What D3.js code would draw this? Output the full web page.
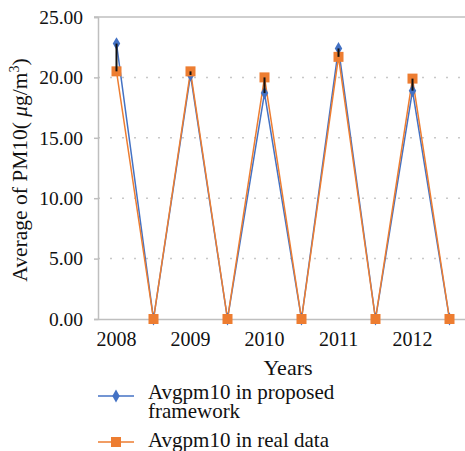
<!DOCTYPE html>
<html lang="en">
<head>
  <meta charset="UTF-8">
  <title>Average PM10 by year</title>
  <script src="https://d3js.org/d3.v7.min.js"></script>
  <style>
    body {
      margin: 0;
      background: #fff;
    }
  </style>
</head>
<body>
  <svg width="465" height="451"></svg>

  <script>
    // data
    const categories = ["2008", "", "2009", "", "2010", "", "2011", "", "2012", ""];
    const proposed = [22.8, 0, 20.2, 0, 18.7, 0, 22.4, 0, 18.9, 0];
    const realData = [20.5, 0, 20.5, 0, 20.0, 0, 21.7, 0, 19.9, 0];
    const yTicks = [0, 5, 10, 15, 20, 25];
    const seriesNames = ["Avgpm10 in proposed framework", "Avgpm10 in real data"];

    const serif = '"Liberation Serif", "DejaVu Serif", serif';

    const svg = d3.select("svg"),
          margin = {top: 17, right: -3, bottom: 132, left: 98},
          width = +svg.attr("width") - margin.left - margin.right,
          height = +svg.attr("height") - margin.top - margin.bottom;

    const blue = "#4472C4",
          orange = "#ED7D31",
          gridColor = "#BFBFBF";

    const g = svg.append("g").attr("transform", `translate(${margin.left},${margin.top})`);

    const idx = d3.range(categories.length);
    const x = d3.scaleBand().domain(idx).range([0, width]);
    const y = d3.scaleLinear().domain([0, 25]).range([height, 0]);
    const cx = i => x(i) + x.bandwidth() / 2;

    // dotted gridlines
    g.selectAll(".grid")
      .data(yTicks.filter(t => t > 0 && t < 25))
      .enter()
      .append("line")
      .attr("x1", 0)
      .attr("x2", width)
      .attr("y1", d => y(d))
      .attr("y2", d => y(d))
      .attr("stroke", "#C8C8C8")
      .attr("stroke-width", 1.5)
      .attr("stroke-dasharray", "2,10");

    // top border
    g.append("line")
      .attr("x1", -4).attr("x2", width)
      .attr("y1", y(25)).attr("y2", y(25))
      .attr("stroke", gridColor).attr("stroke-width", 1.5);

    // axes
    const yAxis = g.append("g")
      .call(d3.axisLeft(y).tickValues(yTicks).tickFormat(d3.format(".2f")).tickSize(4).tickPadding(11));
    yAxis.select(".domain").attr("stroke", gridColor).attr("stroke-width", 1.5);
    yAxis.selectAll(".tick line").attr("stroke", gridColor).attr("stroke-width", 1.5);
    yAxis.selectAll("text")
      .style("font-family", serif)
      .style("font-size", "19.5px")
      .attr("fill", "#111");

    const xAxis = g.append("g")
      .attr("transform", `translate(0,${height})`)
      .call(d3.axisBottom(x).tickSize(0).tickPadding(13).tickFormat(i => categories[i]));
    xAxis.select(".domain").attr("stroke", gridColor).attr("stroke-width", 1.5);
    xAxis.selectAll("text")
      .style("font-family", serif)
      .style("font-size", "20px")
      .attr("fill", "#111");

    // lines
    const line = d3.line()
      .x((d, i) => cx(i))
      .y(d => y(d));

    g.append("path")
      .datum(proposed)
      .attr("fill", "none")
      .attr("stroke", blue)
      .attr("stroke-width", 1.5)
      .attr("d", line);

    g.append("path")
      .datum(realData)
      .attr("fill", "none")
      .attr("stroke", orange)
      .attr("stroke-width", 1.5)
      .attr("d", line);

    // markers
    const diamond = d3.symbol().type(d3.symbolDiamond).size(48);
    g.selectAll(".pmark")
      .data(proposed)
      .enter()
      .append("path")
      .attr("transform", (d, i) => `translate(${cx(i)},${y(d)})`)
      .attr("d", diamond)
      .attr("fill", blue);

    g.selectAll(".rmark")
      .data(realData)
      .enter()
      .append("rect")
      .attr("x", (d, i) => cx(i) - 5)
      .attr("y", d => y(d) - 5)
      .attr("width", 10)
      .attr("height", 10)
      .attr("fill", orange);

    // high-low lines
    g.selectAll(".hilo")
      .data(idx.filter(i => proposed[i] !== realData[i]))
      .enter()
      .append("line")
      .attr("x1", i => cx(i))
      .attr("x2", i => cx(i))
      .attr("y1", i => y(proposed[i]))
      .attr("y2", i => y(realData[i]))
      .attr("stroke", "#111")
      .attr("stroke-width", 2);

    // axis titles
    svg.append("text")
      .attr("transform", "translate(27,170) rotate(-90)")
      .attr("text-anchor", "middle")
      .style("font-family", serif)
      .style("font-size", "21.5px")
      .attr("fill", "#111")
      .call(t => {
        t.append("tspan").text("Average of PM10( ");
        t.append("tspan").style("font-style", "italic").text("μ");
        t.append("tspan").text("g/m");
        t.append("tspan").attr("dy", -8).style("font-size", "14px").text("3");
        t.append("tspan").attr("dy", 8).text(")");
      });

    svg.append("text")
      .attr("x", 288)
      .attr("y", 375)
      .attr("text-anchor", "middle")
      .style("font-family", serif)
      .style("font-size", "22px")
      .attr("fill", "#111")
      .text("Years");

    // legend
    const legend = svg.append("g").attr("transform", "translate(98,0)");
    const legendRows = [
      {y: 396, color: blue, lines: ["Avgpm10 in proposed", "framework"], textY: 399},
      {y: 442, color: orange, lines: [seriesNames[1]], textY: 447}
    ];

    legendRows.forEach((r, k) => {
      legend.append("line")
        .attr("x1", 0).attr("x2", 36)
        .attr("y1", r.y).attr("y2", r.y)
        .attr("stroke", r.color).attr("stroke-width", 1.5);
      if (k === 0) {
        legend.append("path")
          .attr("transform", `translate(18,${r.y})`)
          .attr("d", diamond)
          .attr("fill", r.color);
      } else {
        legend.append("rect")
          .attr("x", 13).attr("y", r.y - 5)
          .attr("width", 10).attr("height", 10)
          .attr("fill", r.color);
      }
      r.lines.forEach((s, j) => {
        legend.append("text")
          .attr("x", 50)
          .attr("y", r.textY + j * 19)
          .style("font-family", serif)
          .style("font-size", "21px")
          .attr("fill", "#111")
          .text(s);
      });
    });
  </script>
</body>
</html>
